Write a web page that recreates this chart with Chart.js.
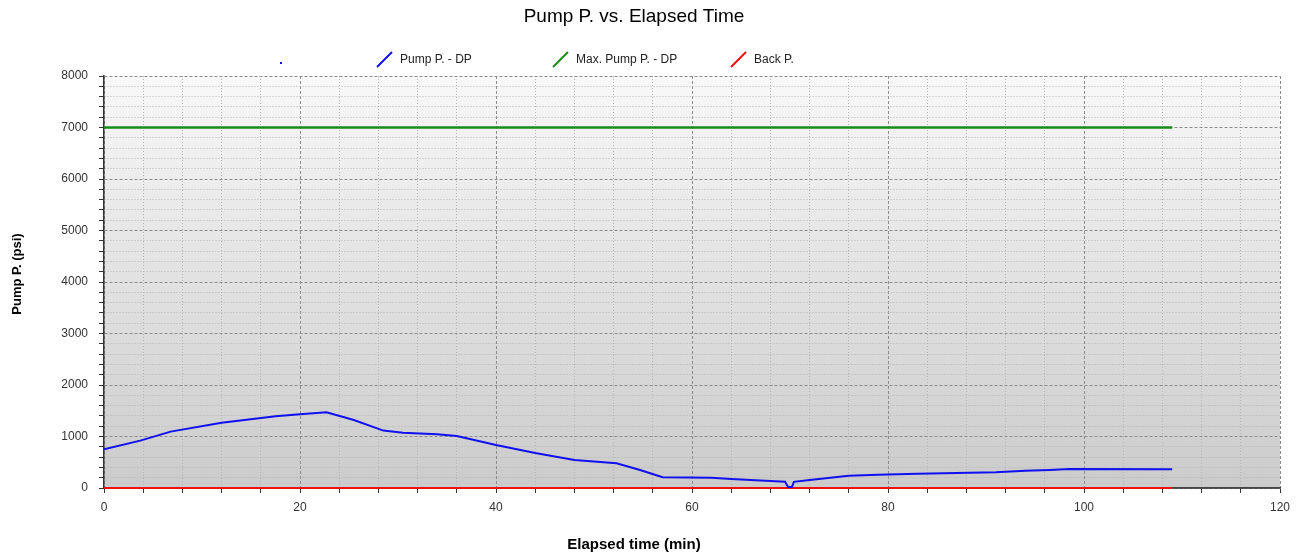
<!DOCTYPE html>
<html>
<head>
<meta charset="utf-8">
<script src="https://cdn.jsdelivr.net/npm/chart.js@4.4.1/dist/chart.umd.min.js"></script>
<style>
    body { margin: 0; background: #fff; }
    #wrap { width: 1300px; height: 558px; position: relative; }
</style>
</head>
<body>
<div id="wrap"><canvas id="myChart"></canvas></div>
<script>
// values
var elapsedMin = [0, 3.7, 6.8, 12, 17.5, 20, 22.7, 25.5, 28.5, 30.5, 34, 36, 40, 44, 48, 52.3, 54.7, 57, 62, 64, 68, 69.5, 69.8, 70.2, 70.4, 72, 76, 79, 83, 91, 94, 96.5, 98.5, 109];
var pumpP      = [750, 920, 1095, 1265, 1395, 1430, 1470, 1320, 1115, 1075, 1045, 1010, 835, 680, 545, 480, 350, 210, 200, 175, 135, 120, 20, 20, 120, 155, 240, 255, 275, 305, 335, 350, 370, 365];
var maxPumpTime = [0, 109];
var maxPumpP    = [7000, 7000];
var backTime = [0, 109];
var backP    = [0, 0];

var legendNames  = ['', 'Pump P. - DP', 'Max. Pump P. - DP', 'Back P.'];
var legendColors = ['#1010e0', '#1010f0', '#1a8c1a', '#f01010'];

var FONT = '"Liberation Sans", Arial, sans-serif';

var toPoints = function (xs, ys) {
    var pts = [];
    for (var i = 0; i < xs.length; i++) {
        pts.push({ x: xs[i], y: ys[i] });
    }
    return pts;
};

var decor = {
    id: 'decor',
    beforeDraw: function (chart) {
        var ctx = chart.ctx;
        var a = chart.chartArea;
        ctx.save();
        ctx.fillStyle = '#ffffff';
        ctx.fillRect(0, 0, chart.width, chart.height);
        var g = ctx.createLinearGradient(0, a.top, 0, a.bottom);
        g.addColorStop(0, '#f8f8f8');
        g.addColorStop(1, '#cbcbcb');
        ctx.fillStyle = g;
        ctx.fillRect(a.left, a.top, a.right - a.left, a.bottom - a.top);
        ctx.restore();
    },
    afterDraw: function (chart) {
        var ctx = chart.ctx;
        var a = chart.chartArea;
        ctx.save();

        // solid bottom axis line
        ctx.strokeStyle = '#444';
        ctx.lineWidth = 1.5;
        ctx.beginPath();
        ctx.moveTo(chart.scales.x.getPixelForValue(backTime[backTime.length - 1]), a.bottom);
        ctx.lineTo(a.right, a.bottom);
        ctx.stroke();

        ctx.fillStyle = '#000';
        ctx.textAlign = 'center';
        ctx.textBaseline = 'middle';

        // titles
        ctx.font = '19px ' + FONT;
        ctx.fillText('Pump P. vs. Elapsed Time', 634, 17);
        ctx.font = 'bold 15px ' + FONT;
        ctx.fillText('Elapsed time (min)', 634, 545);
        ctx.save();
        ctx.translate(17, 274);
        ctx.rotate(-Math.PI / 2);
        ctx.font = 'bold 13px ' + FONT;
        ctx.fillText('Pump P. (psi)', 0, 0);
        ctx.restore();

        // legend
        var xs = [274, 377, 553, 731];
        ctx.textAlign = 'left';
        ctx.font = '12px ' + FONT;
        for (var i = 0; i < legendNames.length; i++) {
            ctx.strokeStyle = legendColors[i];
            ctx.fillStyle = legendColors[i];
            if (i === 0) {
                ctx.fillRect(280, 62, 2, 2);
                continue;
            }
            ctx.lineWidth = 2;
            ctx.beginPath();
            ctx.moveTo(xs[i], 67);
            ctx.lineTo(xs[i] + 15, 52);
            ctx.stroke();
            ctx.fillStyle = '#222';
            ctx.fillText(legendNames[i], xs[i] + 23, 60);
        }
        ctx.restore();
    }
};

var isMajorX = function (v) { return Math.abs(v % 20) < 1e-6; };
var isMajorY = function (v) { return Math.abs(v % 1000) < 1e-6; };

var config = {
    type: 'line',
    data: {
        datasets: [{
            label: legendNames[1],
            data: toPoints(elapsedMin, pumpP),
            borderColor: '#1010f0',
            borderWidth: 2,
            pointRadius: 0,
            tension: 0
        }, {
            label: legendNames[2],
            data: toPoints(maxPumpTime, maxPumpP),
            borderColor: '#1a8c1a',
            borderWidth: 2.5,
            pointRadius: 0
        }, {
            label: legendNames[3],
            data: toPoints(backTime, backP),
            borderColor: '#f01010',
            borderWidth: 2,
            pointRadius: 0,
            clip: 4
        }]
    },
    options: {
        responsive: true,
        maintainAspectRatio: false,
        animation: false,
        layout: { padding: { top: 76, left: 0, right: 20, bottom: 0 } },
        plugins: {
            legend: { display: false },
            title: { display: false },
            tooltip: { enabled: false }
        },
        scales: {
            x: {
                type: 'linear',
                min: 0,
                max: 120,
                afterFit: function (s) { s.height = 70; },
                ticks: {
                    stepSize: 4,
                    autoSkip: false,
                    maxRotation: 0,
                    padding: 7,
                    color: '#333',
                    font: { family: FONT, size: 12 },
                    callback: function (v) { return isMajorX(v) ? v : ''; }
                },
                grid: {
                    tickLength: 5,
                    tickColor: '#333',
                    color: function (c) { return c.tick && isMajorX(c.tick.value) ? '#8c8c8c' : '#b4b4b4'; }
                },
                border: {
                    color: '#444',
                    width: 1.5,
                    dash: function (c) {
                        if (!c.tick) return [];
                        return isMajorX(c.tick.value) ? [3, 2] : [1, 2];
                    }
                }
            },
            y: {
                min: 0,
                max: 8000,
                afterFit: function (s) { s.width = 104; },
                ticks: {
                    stepSize: 200,
                    autoSkip: false,
                    padding: 11,
                    color: '#333',
                    font: { family: FONT, size: 12 },
                    callback: function (v) { return isMajorY(v) ? v : ''; }
                },
                grid: {
                    tickLength: 5,
                    tickColor: '#333',
                    color: function (c) { return c.tick && isMajorY(c.tick.value) ? '#8c8c8c' : '#b4b4b4'; }
                },
                border: {
                    color: '#333',
                    width: 1.5,
                    dash: function (c) {
                        if (!c.tick) return [];
                        return isMajorY(c.tick.value) ? [3, 2] : [1, 2];
                    }
                }
            }
        }
    },
    plugins: [decor]
};

var ctx = document.getElementById('myChart').getContext('2d');
var myChart = new Chart(ctx, config);
</script>
</body>
</html>
